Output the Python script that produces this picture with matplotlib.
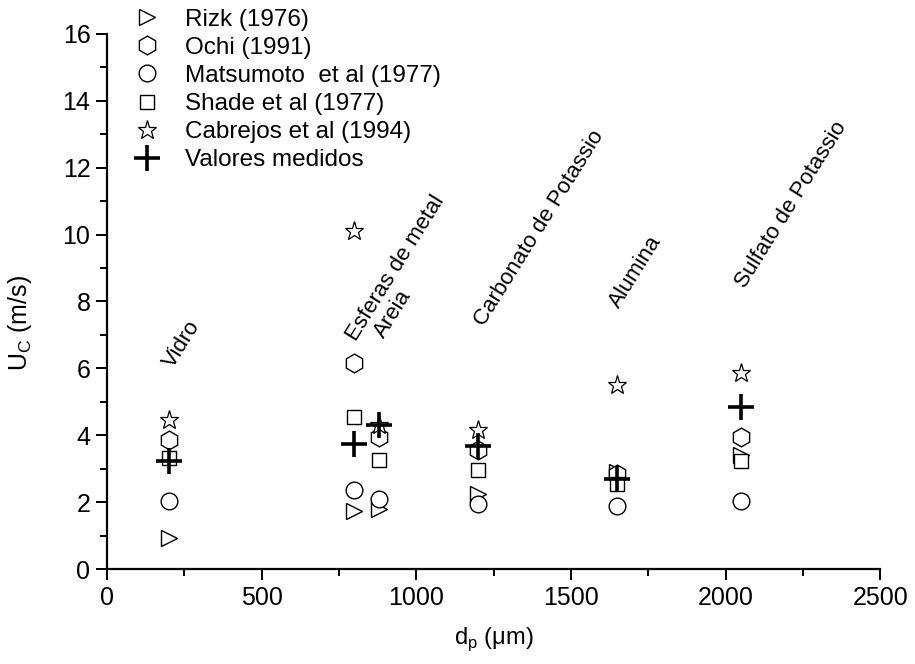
import matplotlib
matplotlib.use("Agg")
import matplotlib.pyplot as plt
from matplotlib.ticker import MultipleLocator

plt.rcParams["font.family"] = ["Liberation Sans", "DejaVu Sans"]

# particle diameter (um) per material
materials = ["Vidro", "Esferas de metal", "Areia", "Carbonato de Potassio",
             "Alumina", "Sulfato de Potassio"]
dp = [200, 800, 880, 1200, 1650, 2050]

# minimum velocity U_C (m/s) per correlation
rizk = [0.92, 1.73, 1.80, 2.25, 2.90, 3.40]
ochi = [3.86, 6.15, 3.95, 3.55, 2.85, 3.96]
matsumoto = [2.03, 2.35, 2.08, 1.95, 1.88, 2.03]
shade = [3.33, 4.55, 3.27, 2.95, 2.55, 3.23]
cabrejos = [4.47, 10.1, 4.30, 4.15, 5.50, 5.85]
medidos = [3.22, 3.75, 4.30, 3.67, 2.70, 4.85]

# where the material names sit
label_x = [228, 820, 910, 1232, 1668, 2076]
label_y = [5.9, 6.7, 6.8, 7.15, 7.7, 8.3]

fig = plt.figure(figsize=(9.15, 6.64), dpi=100)
ax = fig.add_axes([0.117, 0.143, 0.845, 0.806])

open_style = dict(ls="none", mfc="white", mec="black", mew=1.0)
ax.plot(dp, rizk, marker=">", ms=12, label="Rizk (1976)", **open_style)
ax.plot(dp, ochi, marker="h", ms=13.5, label="Ochi (1991)", **open_style)
ax.plot(dp, matsumoto, marker="o", ms=12, label="Matsumoto  et al (1977)", **open_style)
ax.plot(dp, shade, marker="s", ms=10, label="Shade et al (1977)", **open_style)
ax.plot(dp, cabrejos, marker="*", ms=14, label="Cabrejos et al (1994)",
        ls="none", mfc="white", mec="black", mew=0.9)
ax.plot(dp, medidos, marker="+", ls="none", color="black", mew=2.6, ms=19,
        label="Valores medidos")

for name, x, y in zip(materials, label_x, label_y):
    ax.text(x, y, name, rotation=58, rotation_mode="anchor",
            ha="left", va="bottom", fontsize=16)

ax.set_xlim(0, 2500)
ax.set_ylim(0, 16)
ax.xaxis.set_major_locator(MultipleLocator(500))
ax.xaxis.set_minor_locator(MultipleLocator(250))
ax.yaxis.set_major_locator(MultipleLocator(2))
ax.yaxis.set_minor_locator(MultipleLocator(1))
ax.tick_params(which="both", direction="out", width=1.4, labelsize=18)
ax.tick_params(which="major", length=8, pad=4)
ax.tick_params(which="minor", length=5)
ax.spines["top"].set_visible(False)
ax.spines["right"].set_visible(False)
for s in ("left", "bottom"):
    ax.spines[s].set_linewidth(1.6)

ax.set_xlabel("d$_\\mathregular{p}$ (\u03bcm)", fontsize=17)
ax.set_ylabel("U$_\\mathregular{C}$ (m/s)", fontsize=18)
ax.xaxis.set_label_coords(0.5, -0.105)
ax.yaxis.set_label_coords(-0.094, 0.46)

ax.legend(loc="upper left", frameon=False, fontsize=17.5, handlelength=1.2,
          handletextpad=0.96, labelspacing=0.25, borderaxespad=0.0,
          bbox_to_anchor=(0.02, 1.065))

fig.savefig("out.png", dpi=100)
